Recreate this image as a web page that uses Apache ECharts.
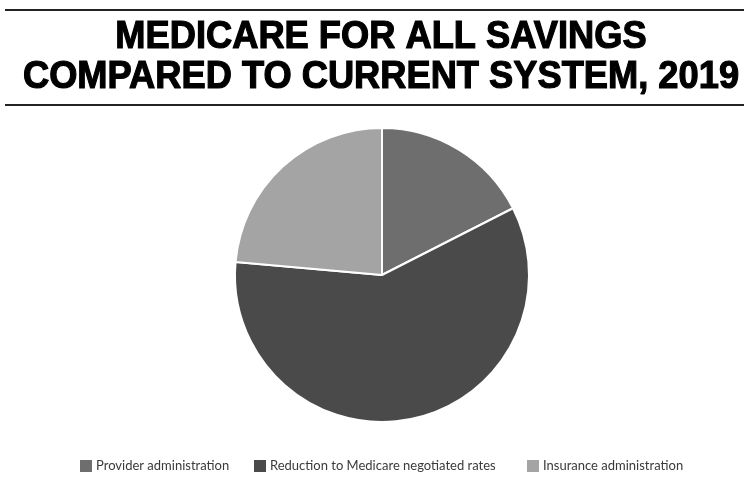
<!DOCTYPE html>
<html>
<head>
<meta charset="utf-8">
<script src="https://cdn.jsdelivr.net/npm/echarts@6/dist/echarts.min.js"></script>
<style>
  html, body { margin: 0; padding: 0; background: #fff; }
  #chart { width: 744px; height: 496px; }
</style>
</head>
<body>
<div id="chart"></div>
<script>
// Savings categories and their shares (%) of the total
const categories = ['Provider administration', 'Reduction to Medicare negotiated rates', 'Insurance administration'];
const shares = [17.5, 58.9, 23.6];
const colors = ['#6e6e6e', '#4a4a4a', '#a4a4a4'];
const titleLines = ['MEDICARE FOR ALL SAVINGS', 'COMPARED TO CURRENT SYSTEM, 2019'];
const legendLefts = [78, 252, 525];

const chart = echarts.init(document.getElementById('chart'), null, { renderer: 'canvas' });

const titleText = (text, y) => ({
  type: 'text',
  x: 381,
  y: y,
  scaleX: 0.93,
  style: {
    text: text,
    font: 'bold 39px "Liberation Sans", Arial, sans-serif',
    fill: '#000',
    stroke: '#000',
    lineWidth: 1.2,
    align: 'center',
    verticalAlign: 'middle'
  }
});

// one legend block per category so each entry sits at its own spot
const legends = categories.map((name, i) => ({
  left: legendLefts[i],
  top: 458,
  padding: 0,
  itemWidth: 14,
  itemHeight: 14,
  icon: 'rect',
  textStyle: { fontFamily: 'Lato, "Open Sans", sans-serif', fontSize: 13, color: '#3a3a3a', padding: [0, 0, 0, -2] },
  data: [name]
}));

chart.setOption({
  animation: false,
  backgroundColor: '#fff',
  color: colors,
  graphic: [
    { type: 'line', shape: { x1: 5, y1: 10, x2: 744, y2: 10 }, style: { stroke: '#222', lineWidth: 2 } },
    { type: 'line', shape: { x1: 5, y1: 105, x2: 744, y2: 105 }, style: { stroke: '#222', lineWidth: 2 } },
    titleText(titleLines[0], 37),
    titleText(titleLines[1], 77)
  ],
  legend: legends,
  series: [{
    type: 'pie',
    center: [382, 275],
    radius: 147,
    startAngle: 90,
    clockwise: true,
    label: { show: false },
    labelLine: { show: false },
    itemStyle: { borderColor: '#fff', borderWidth: 2 },
    emphasis: { disabled: true },
    data: categories.map((name, i) => ({ name: name, value: shares[i] }))
  }]
});
</script>
</body>
</html>
